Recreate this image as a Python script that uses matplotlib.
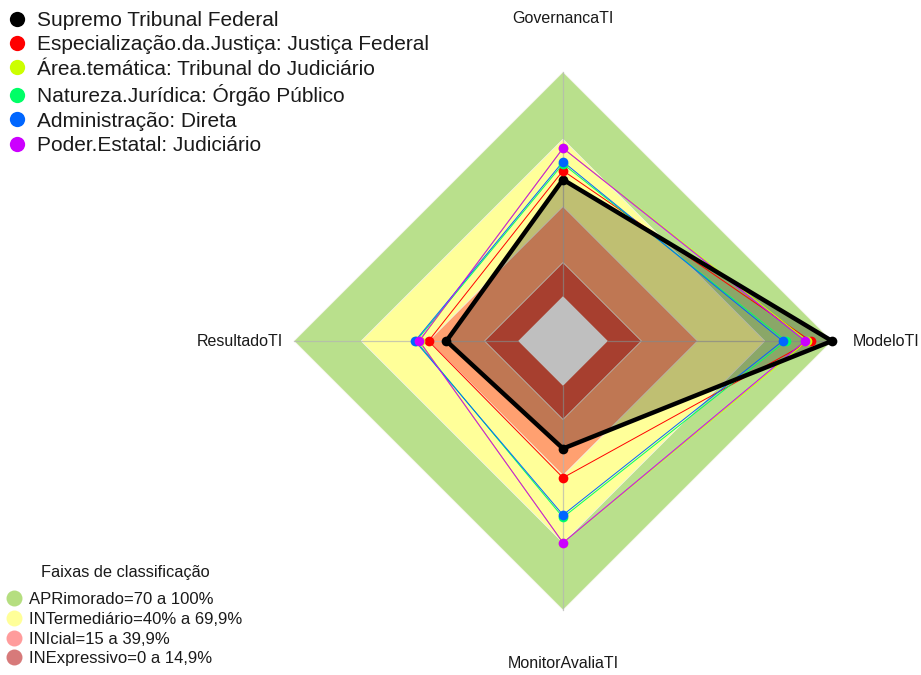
import numpy as np
import matplotlib
matplotlib.use("Agg")
import matplotlib.pyplot as plt
from matplotlib.lines import Line2D

plt.rcParams['font.family'] = ['Liberation Sans', 'DejaVu Sans']

# eixos do radar (sentido horario a partir do topo)
eixos = ['GovernancaTI', 'ModeloTI', 'MonitorAvaliaTI', 'ResultadoTI']

# valores (0 a 1), na ordem dos eixos
series = ['Supremo Tribunal Federal',
          'Especialização.da.Justiça: Justiça Federal',
          'Área.temática: Tribunal do Judiciário',
          'Natureza.Jurídica: Órgão Público',
          'Administração: Direta',
          'Poder.Estatal: Judiciário']
stf = [0.52, 1.00, 0.28, 0.32]
justica_federal = [0.56, 0.905, 0.41, 0.40]
area_tematica = [0.66, 0.89, 0.70, 0.44]
natureza = [0.59, 0.795, 0.587, 0.455]
administracao = [0.60, 0.78, 0.576, 0.46]
poder = [0.66, 0.88, 0.70, 0.442]
valores = [stf, justica_federal, area_tematica, natureza, administracao, poder]
cores = ['#000000', '#FF0000', '#CCFF00', '#00FF66', '#0066FF', '#CC00FF']

# faixas de classificacao
faixas = ['APRimorado=70 a 100%', 'INTermediário=40% a 69,9%',
          'INIcial=15 a 39,9%', 'INExpressivo=0 a 14,9%']
limites = [1.00, 0.70, 0.40, 0.15]
cores_faixas = ['#B9E08C', '#FFFF99', '#FFA070', '#E0553F']
cores_leg_faixas = ['#B5DE80', '#FFFF99', '#FF9C9C', '#D77A7A']

# estilo fmsb: centro deslocado (seg=5)
seg = 5
def raio(v):
    return 1.0 / (seg + 1) + np.asarray(v) * seg / (seg + 1)

ang = np.pi / 2 - np.arange(len(eixos)) * 2 * np.pi / len(eixos)

def xy(v):
    r = raio(v)
    x = r * np.cos(ang)
    y = r * np.sin(ang)
    return np.append(x, x[0]), np.append(y, y[0])

fig = plt.figure(figsize=(9.21, 6.75), dpi=100)
ax = fig.add_axes([240.2 / 921, 11.2 / 675, 645.6 / 921, 645.6 / 675])
ax.set_xlim(-1.2, 1.2)
ax.set_ylim(-1.2, 1.2)
ax.set_aspect('equal')
ax.axis('off')

# faixas
for lim, c in zip(limites, cores_faixas):
    x, y = xy([lim] * 4)
    ax.fill(x, y, color=c, lw=0.6, ec='#F4F4E8', zorder=1)
x, y = xy([0] * 4)
ax.fill(x, y, color='white', lw=0, zorder=1)

# linhas dos eixos
for a in ang:
    ax.plot([raio(0) * np.cos(a), np.cos(a)], [raio(0) * np.sin(a), np.sin(a)],
            color='#B4B4B4', lw=0.9, alpha=0.7, zorder=2)

# series
for i, (v, c) in enumerate(zip(valores, cores)):
    x, y = xy(v)
    if i == 0:
        ax.fill(x, y, color='black', alpha=0.25, lw=0, zorder=3)
        ax.plot(x, y, color=c, lw=3.2, zorder=5)
    else:
        ax.plot(x, y, color=c, lw=0.7, zorder=4)
    ax.plot(x[:-1], y[:-1], 'o', color=c, ms=7, mec='none', zorder=6)

# rotulos dos eixos
for nome, a in zip(eixos, ang):
    ax.text(1.2 * np.cos(a), 1.2 * np.sin(a), nome, ha='center', va='center',
            fontsize=11.5, color='#1A1A1A', clip_on=False)

# legenda das series
h1 = [Line2D([0], [0], marker='o', ls='none', color=c, mec='none', ms=11)
      for c in cores]
leg1 = fig.legend(h1, series, loc='upper left', bbox_to_anchor=(0.0, 0.990),
                  frameon=False, fontsize=15, handletextpad=0.37,
                  labelspacing=0.26, handlelength=1.2, borderaxespad=0.0,
                  borderpad=0.2)
for t in leg1.get_texts():
    t.set_color('#1A1A1A')

# legenda das faixas
h2 = [Line2D([0], [0], marker='o', ls='none', color=c, mec='none', ms=11.5)
      for c in cores_leg_faixas]
leg2 = fig.legend(h2, faixas, loc='lower left', bbox_to_anchor=(0.0, 0.008),
                  frameon=False, fontsize=12, handletextpad=0.22,
                  labelspacing=0.28, handlelength=1.3, borderaxespad=0.0,
                  borderpad=0.2)
for t in leg2.get_texts():
    t.set_color('#1A1A1A')
fig.text(125 / 921, 1 - 572 / 675, 'Faixas de classificação', ha='center',
         va='center', fontsize=11.8, color='#1A1A1A')

fig.savefig('out.png', dpi=100)
